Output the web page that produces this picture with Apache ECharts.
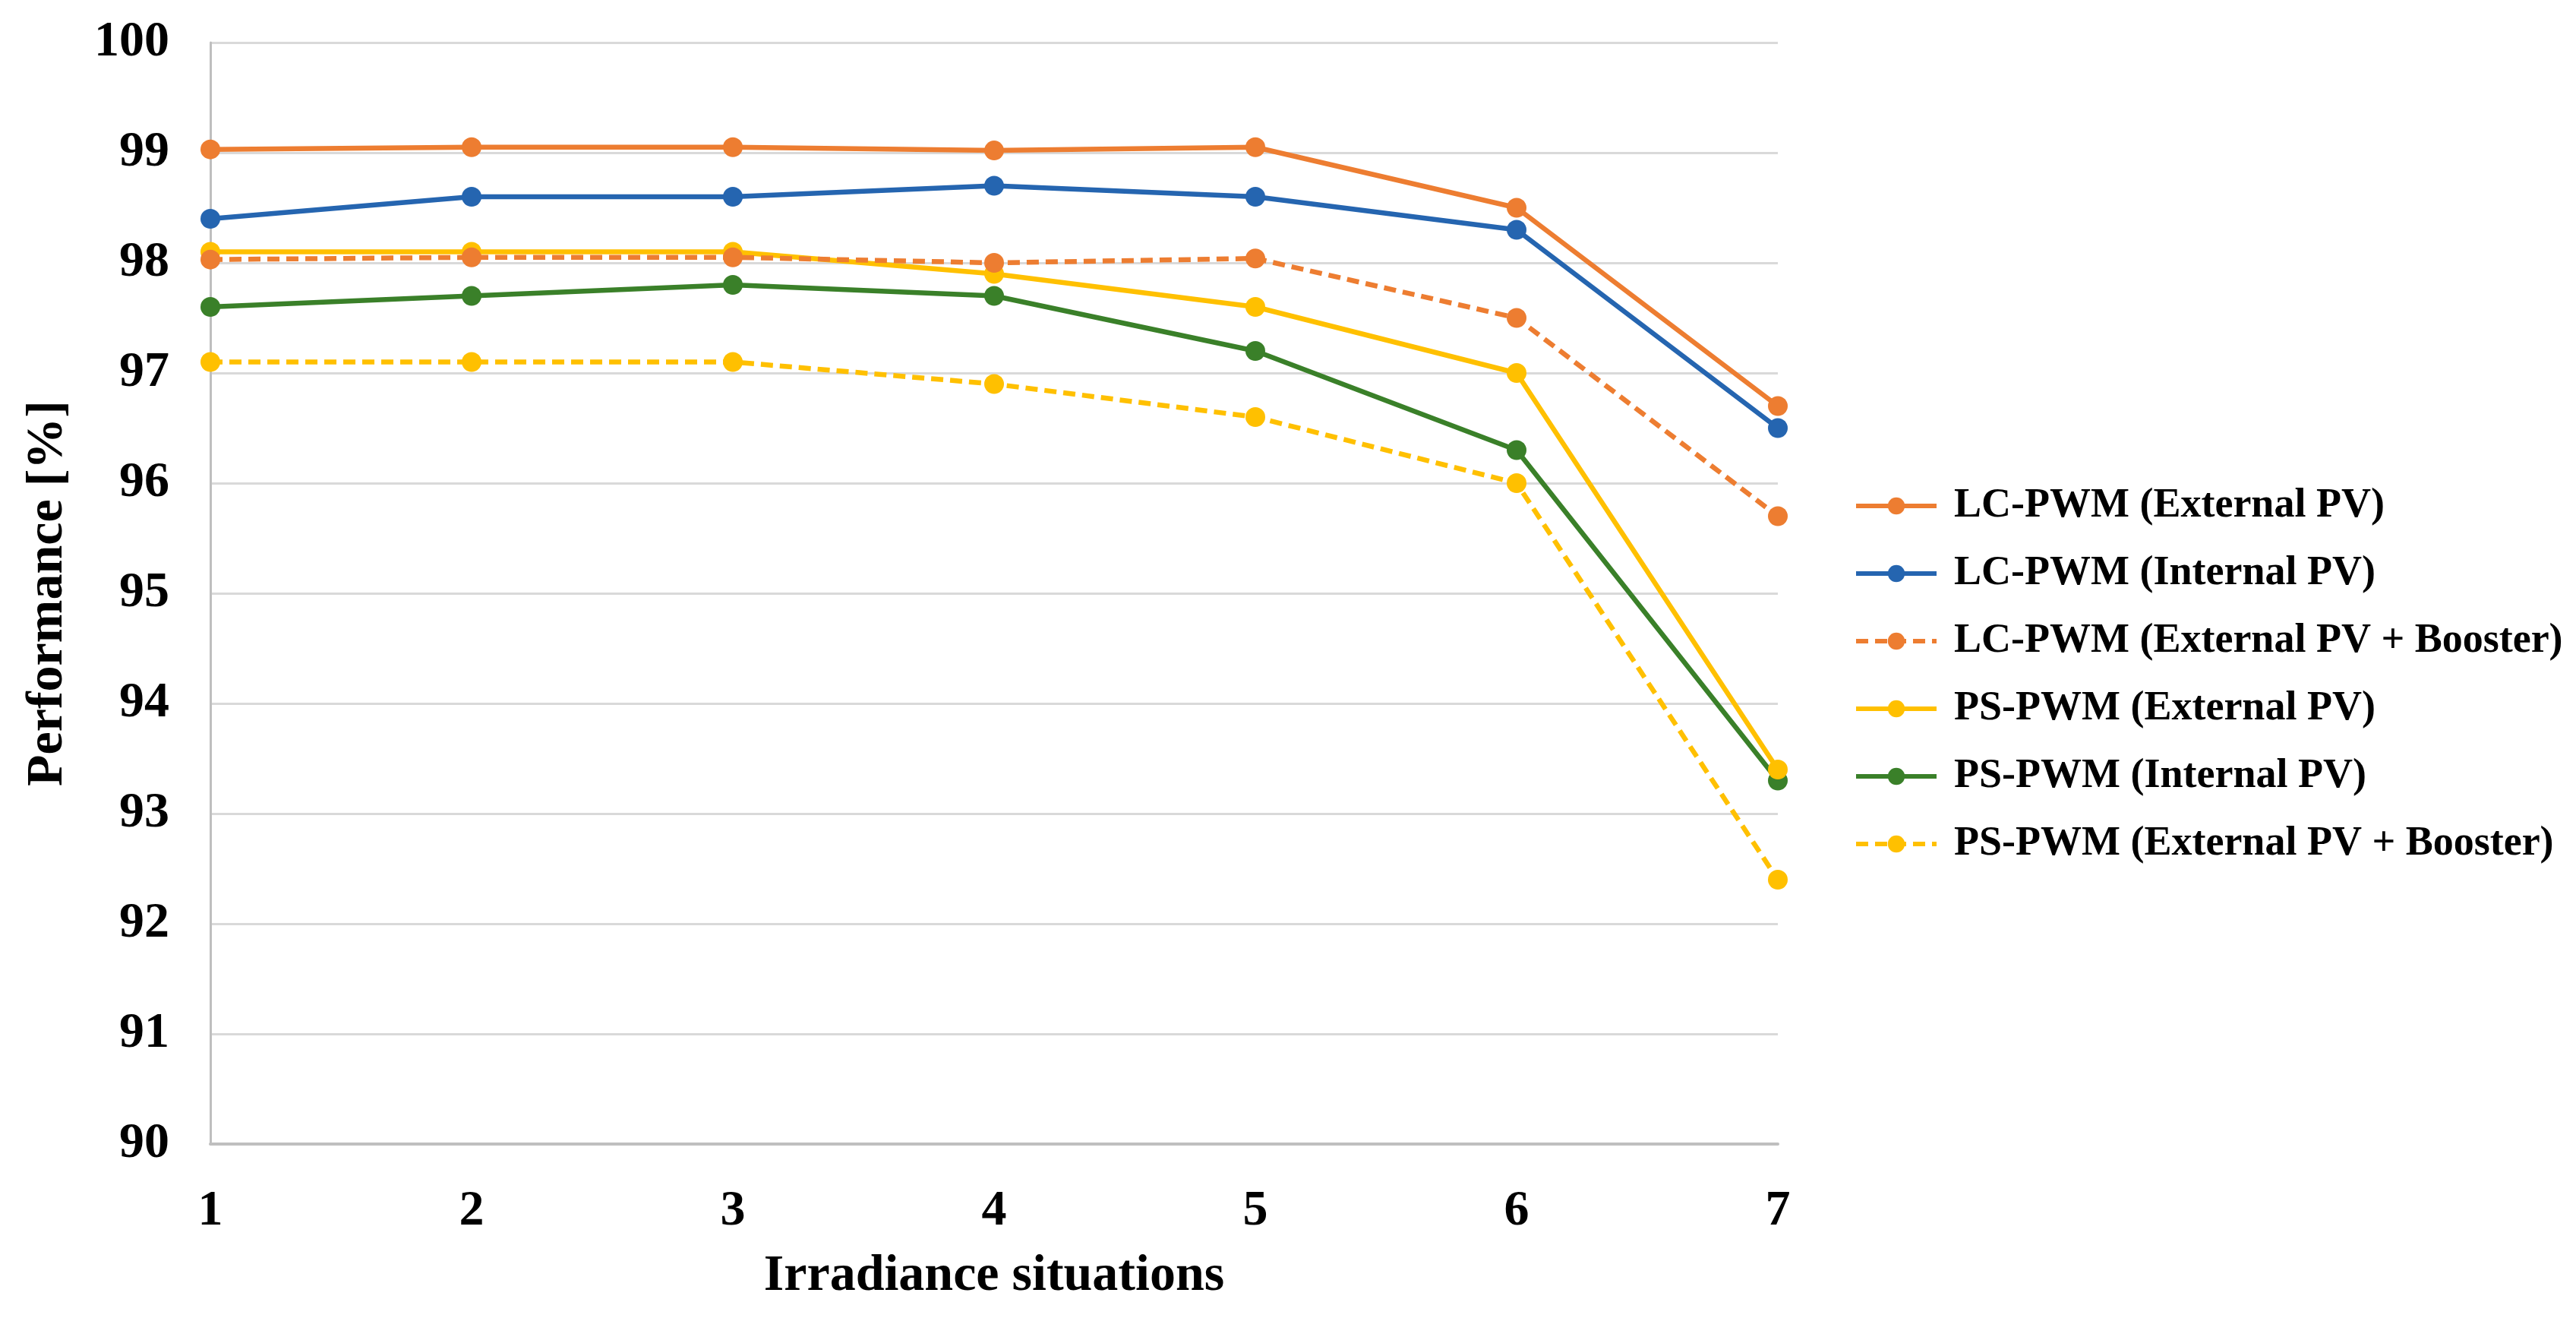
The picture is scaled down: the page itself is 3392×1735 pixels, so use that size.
<!DOCTYPE html>
<html>
<head>
<meta charset="utf-8">
<script src="https://cdn.jsdelivr.net/npm/echarts@6/dist/echarts.min.js"></script>
<style>
html,body{margin:0;padding:0;background:#fff;}
#chart{width:3392px;height:1735px;}
</style>
</head>
<body>
<div id="chart"></div>
<script>
const categories = ['1','2','3','4','5','6','7'];
const seriesNames = [
  'LC-PWM (External PV)',
  'LC-PWM (Internal PV)',
  'LC-PWM (External PV + Booster)',
  'PS-PWM (External PV)',
  'PS-PWM (Internal PV)',
  'PS-PWM (External PV + Booster)'
];
const lcExternal = [99.03, 99.05, 99.05, 99.02, 99.05, 98.5, 96.7];
const lcInternal = [98.4, 98.6, 98.6, 98.7, 98.6, 98.3, 96.5];
const lcExternalBooster = [98.03, 98.05, 98.05, 98.0, 98.04, 97.5, 95.7];
const psExternal = [98.1, 98.1, 98.1, 97.9, 97.6, 97.0, 93.4];
const psInternal = [97.6, 97.7, 97.8, 97.7, 97.2, 96.3, 93.3];
const psExternalBooster = [97.1, 97.1, 97.1, 96.9, 96.6, 96.0, 92.4];
const yTicks = [90, 91, 92, 93, 94, 95, 96, 97, 98, 99, 100];

const seriesData = [lcExternal, lcInternal, lcExternalBooster, psExternal, psInternal, psExternalBooster];
const colors = ['#ED7D31', '#2565B0', '#ED7D31', '#FFC000', '#3A8029', '#FFC000'];
const dashed = [false, false, true, false, false, true];

const FONT = '"Liberation Serif", "Times New Roman", serif';

const chart = echarts.init(document.getElementById('chart'), null, {renderer: 'canvas'});
chart.setOption({
  backgroundColor: '#ffffff',
  animation: false,
  grid: {left: 277, right: 1051, top: 56, bottom: 229, containLabel: false},
  legend: {
    orient: 'vertical',
    left: 2436,
    top: 634,
    itemWidth: 106,
    itemHeight: 28,
    itemGap: 35,
    lineStyle: {width: 6},
    textStyle: {fontFamily: FONT, fontWeight: 'bold', fontSize: 54, color: '#000', padding: [0,0,0,18]},
    data: seriesNames
  },
  xAxis: {
    type: 'category',
    data: categories,
    boundaryGap: false,
    name: 'Irradiance situations',
    nameLocation: 'middle',
    nameGap: 140,
    nameTextStyle: {fontFamily: FONT, fontWeight: 'bold', fontSize: 68, color: '#000'},
    axisLine: {show: true, lineStyle: {color: '#BFBFBF', width: 4}},
    axisTick: {show: false},
    axisLabel: {fontFamily: FONT, fontWeight: 'bold', fontSize: 66, color: '#000', margin: 56},
    splitLine: {show: false}
  },
  yAxis: {
    type: 'value',
    min: yTicks[0],
    max: yTicks[yTicks.length - 1],
    interval: 1,
    name: 'Performance [%]',
    nameLocation: 'middle',
    nameGap: 180,
    nameRotate: 90,
    nameTextStyle: {fontFamily: FONT, fontWeight: 'bold', fontSize: 68, color: '#000'},
    axisLine: {show: true, lineStyle: {color: '#BFBFBF', width: 3}},
    axisTick: {show: false},
    axisLabel: {fontFamily: FONT, fontWeight: 'bold', fontSize: 66, color: '#000', margin: 54},
    splitLine: {show: true, lineStyle: {color: '#D9D9D9', width: 3}}
  },
  series: seriesNames.map((name, i) => ({
    name: name,
    type: 'line',
    data: seriesData[i],
    symbol: 'circle',
    symbolSize: 26,
    showSymbol: true,
    color: colors[i],
    lineStyle: {color: colors[i], width: 6.5, type: dashed[i] ? [16, 9] : 'solid'},
    itemStyle: {color: colors[i]},
    z: 10 - i
  }))
});
</script>
</body>
</html>
